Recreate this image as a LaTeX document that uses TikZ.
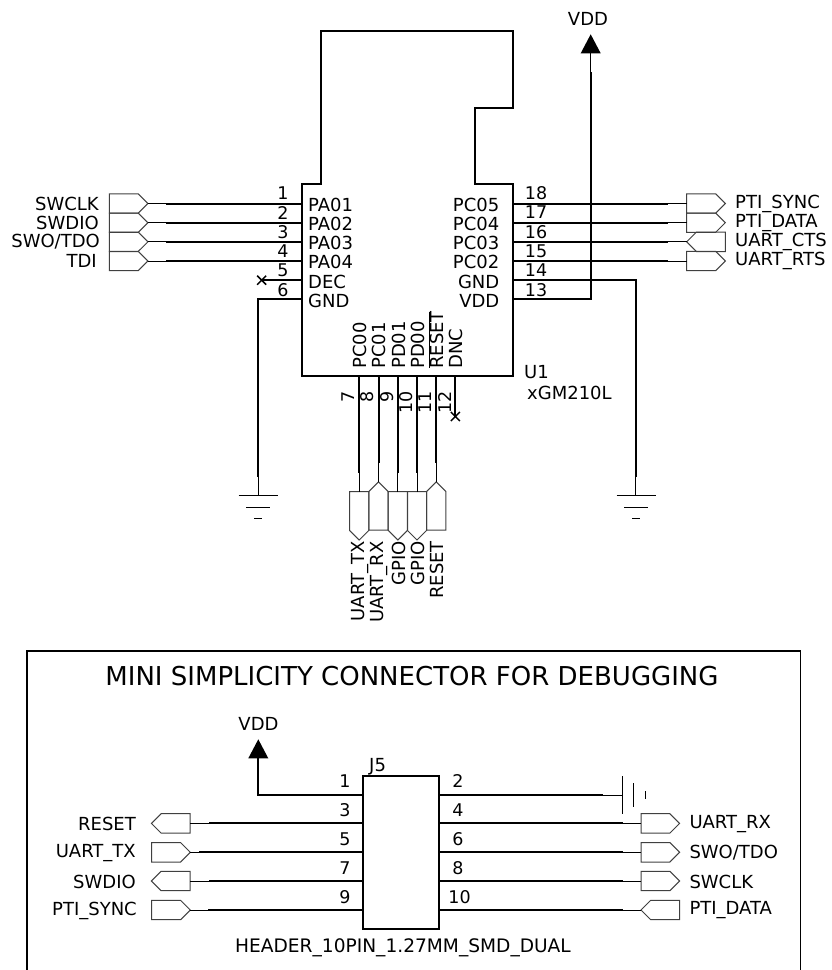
\documentclass[tikz,border=0pt]{standalone}
\usepackage{fontspec}
\setmainfont{DejaVu Sans}
\usetikzlibrary{shapes.symbols,shapes.misc}
\tikzset{
	wire/.style={line width=2pt},
	stub/.style={line width=1pt},
	outline/.style={line width=2pt},
	flag/.style={draw=black!75, line width=1pt, signal, signal from=nowhere, signal pointer angle=90, inner sep=0pt, outer sep=0pt},
	flagE/.style={flag, minimum width=38.6pt, minimum height=19.4pt, signal to=east, anchor=west},
	flagW/.style={flag, minimum width=38.6pt, minimum height=19.4pt, signal to=west, anchor=east},
	flagS/.style={flag, minimum width=19.4pt, minimum height=38.6pt, signal to=south, anchor=north},
	flagN/.style={flag, minimum width=19.4pt, minimum height=38.6pt, signal to=north, anchor=south},
	nc/.style={draw, cross out, line width=1.5pt, minimum size=9pt, inner sep=0pt, outer sep=0pt},
	txt/.style={font=\fontsize{18pt}{18pt}\selectfont, inner sep=0pt},
	num/.style={font=\fontsize{17.5pt}{17.5pt}\selectfont, inner sep=0pt},
}
\begin{document}
\begin{tikzpicture}[x=1pt,y=-1pt]
	\useasboundingbox (0,0) rectangle (831,970);

	% Draw U1 body
	\draw[outline] (301.7,376) -- (301.7,184) -- (320.7,184) -- (320.7,30.7) -- (513.3,30.7) -- (513.3,107.7) -- (475,107.7) -- (475,184) -- (513.3,184) -- (513.3,376) -- cycle;
	\coordinate (pa01) at (301.7,203.5);
	\coordinate (pa02) at (301.7,222.7);
	\coordinate (pa03) at (301.7,241.8);
	\coordinate (pa04) at (301.7,261);
	\coordinate (dec) at (301.7,280.2);
	\coordinate (gnda) at (301.7,299.4);
	\coordinate (pc05) at (513.3,203.5);
	\coordinate (pc04) at (513.3,222.7);
	\coordinate (pc03) at (513.3,241.8);
	\coordinate (pc02) at (513.3,261);
	\coordinate (gndb) at (513.3,280.2);
	\coordinate (vddu) at (513.3,299.4);
	\coordinate (pc00) at (359.2,376);
	\coordinate (pc01) at (378.5,376);
	\coordinate (pd01) at (397.8,376);
	\coordinate (pd00) at (417,376);
	\coordinate (reset) at (436.2,376);
	\coordinate (dnc) at (455.4,376);

	% Pin names
	\node[txt, anchor=west] (npa01) at (308,205) {PA01};
	\node[txt, anchor=west] (npa02) at (308,224) {PA02};
	\node[txt, anchor=west] (npa03) at (308,243) {PA03};
	\node[txt, anchor=west] (npa04) at (308,262) {PA04};
	\node[txt, anchor=west] (ndec) at (308,281.5) {DEC};
	\node[txt, anchor=west] (ngnda) at (308,300.5) {GND};
	\node[txt, anchor=east] (npc05) at (499.5,205) {PC05};
	\node[txt, anchor=east] (npc04) at (499.5,224) {PC04};
	\node[txt, anchor=east] (npc03) at (499.5,243) {PC03};
	\node[txt, anchor=east] (npc02) at (499.5,262) {PC02};
	\node[txt, anchor=east] (ngndb) at (499.5,281.5) {GND};
	\node[txt, anchor=east] (nvddu) at (499.5,300.5) {VDD};
	\node[txt, rotate=90, anchor=west] (npc00) at (360,369) {PC00};
	\node[txt, rotate=90, anchor=west] (npc01) at (379,369) {PC01};
	\node[txt, rotate=90, anchor=west] (npd01) at (398.5,369) {PD01};
	\node[txt, rotate=90, anchor=west] (npd00) at (418,369) {PD00};
	\node[txt, rotate=90, anchor=west] (nreset) at (437,369) {RESET};
	\node[txt, rotate=90, anchor=west] (ndnc) at (456,369) {DNC};
	\draw[stub] (429,368) -- (429,312);
	\node[txt, anchor=west] (u1) at (524,372) {U1};
	\node[txt, anchor=west] (xgm) at (527,393) {xGM210L};

	% Pin numbers
	\node[num] (n1) at (283,193.5) {1};
	\node[num] (n2) at (283,212.5) {2};
	\node[num] (n3) at (283,232) {3};
	\node[num] (n4) at (283,251.5) {4};
	\node[num] (n5) at (283,270.5) {5};
	\node[num] (n6) at (283,290) {6};
	\node[num] (n18) at (536,193.5) {18};
	\node[num] (n17) at (536,212.5) {17};
	\node[num] (n16) at (536,232) {16};
	\node[num] (n15) at (536,251.5) {15};
	\node[num] (n14) at (536,270.5) {14};
	\node[num] (n13) at (536,290) {13};
	\node[num, rotate=90, anchor=east] (n7) at (348.5,391) {7};
	\node[num, rotate=90, anchor=east] (n8) at (367.5,391) {8};
	\node[num, rotate=90, anchor=east] (n9) at (387,391) {9};
	\node[num, rotate=90, anchor=east] (n10) at (406.5,391) {10};
	\node[num, rotate=90, anchor=east] (n11) at (425.5,391) {11};
	\node[num, rotate=90, anchor=east] (n12) at (445,391) {12};

	% Left flags
	\node[flagE] (swclk) at (109.3,203.5) {};
	\node[flagE] (swdio) at (109.3,222.7) {};
	\node[flagE] (swo) at (109.3,241.8) {};
	\node[flagE] (tdi) at (109.3,261) {};
	\node[txt, anchor=east] (lswclk) at (99,204) {SWCLK};
	\node[txt, anchor=east] (lswdio) at (99,223) {SWDIO};
	\node[txt, anchor=east] (lswo) at (100,242) {SWO/TDO};
	\node[txt, anchor=east] (ltdi) at (97,261) {TDI};
	\draw[stub] (swclk.east) -- +(18.5,0) coordinate (wa);
	\draw[wire] (wa) -- (pa01);
	\draw[stub] (swdio.east) -- +(18.5,0) coordinate (wb);
	\draw[wire] (wb) -- (pa02);
	\draw[stub] (swo.east) -- +(18.5,0) coordinate (wc);
	\draw[wire] (wc) -- (pa03);
	\draw[stub] (tdi.east) -- +(18.5,0) coordinate (wd);
	\draw[wire] (wd) -- (pa04);

	% DEC no connect
	\node[nc] (xdec) at (261.7,280.2) {};
	\draw[wire] (xdec.center) -- (dec);

	% Right flags
	\node[flagE] (sync) at (686.7,203.5) {};
	\node[flagE] (data) at (686.7,222.7) {};
	\node[flagW] (cts) at (725.3,241.8) {};
	\node[flagE] (rts) at (686.7,261) {};
	\node[txt, anchor=west] (lsync) at (735,204) {PTI\_SYNC};
	\node[txt, anchor=west] (ldata) at (735,223) {PTI\_DATA};
	\node[txt, anchor=west] (lcts) at (735,242) {UART\_CTS};
	\node[txt, anchor=west] (lrts) at (735,261) {UART\_RTS};
	\draw[stub] (sync.west) -- +(-19,0) coordinate (we);
	\draw[wire] (we) -- (pc05);
	\draw[stub] (data.west) -- +(-19,0) coordinate (wf);
	\draw[wire] (wf) -- (pc04);
	\draw[stub] (cts.west) -- +(-19,0) coordinate (wg);
	\draw[wire] (wg) -- (pc03);
	\draw[stub] (rts.west) -- +(-19,0) coordinate (wh);
	\draw[wire] (wh) -- (pc02);

	% Bottom flags
	\node[flagS] (uarttx) at (359.2,491.7) {};
	\node[flagN] (uartrx) at (378.5,530.2) {};
	\node[flagS] (gpioa) at (397.8,491.7) {};
	\node[flagS] (gpiob) at (417,491.7) {};
	\node[flagN] (resetf) at (436.2,530.2) {};
	\node[txt, rotate=90, anchor=east] (ltx) at (360,541) {UART\_TX};
	\node[txt, rotate=90, anchor=east] (lrx) at (379,541) {UART\_RX};
	\node[txt, rotate=90, anchor=east] (lga) at (398.5,541) {GPIO};
	\node[txt, rotate=90, anchor=east] (lgb) at (418,541) {GPIO};
	\node[txt, rotate=90, anchor=east] (lre) at (437,541) {RESET};
	\draw[stub] (uarttx.north) -- +(0,-19) coordinate (wi);
	\draw[wire] (wi) -- (pc00);
	\draw[stub] (uartrx.north) -- +(0,-19) coordinate (wj);
	\draw[wire] (wj) -- (pc01);
	\draw[stub] (gpioa.north) -- +(0,-19) coordinate (wk);
	\draw[wire] (wk) -- (pd01);
	\draw[stub] (gpiob.north) -- +(0,-19) coordinate (wl);
	\draw[wire] (wl) -- (pd00);
	\draw[stub] (resetf.north) -- +(0,-19) coordinate (wm);
	\draw[wire] (wm) -- (reset);

	% DNC no connect
	\node[nc] (xdnc) at (455.4,416.5) {};
	\draw[wire] (dnc) -- (xdnc.center);

	% Grounds
	\coordinate (gl) at (258.4,477);
	\coordinate (gr) at (635.7,477);
	\draw[wire] (gnda) -| (gl);
	\draw[wire] (gndb) -| (gr);
	\draw[stub] (gl) -- (258.4,495);
	\draw[stub] (gr) -- (635.7,495);
	\draw[stub] (238.5,495.5) -- (277.7,495.5) (246,507) -- (270,507) (254,518.7) -- (262.3,518.7);
	\draw[stub] (616.5,495.5) -- (655.5,495.5) (624,507) -- (648,507) (632,518.7) -- (640,518.7);

	% VDD
	\coordinate (vtip) at (590.7,34.3);
	\coordinate (vbase) at (590.7,53.3);
	\coordinate (vwire) at (590.7,72);
	\fill (vtip) -- (580.7,53.3) -- (600.7,53.3) -- cycle;
	\draw[stub] (vbase) -- (vwire);
	\draw[wire] (vwire) -- (590.7,299.4) -- (vddu);
	\node[txt] (vddtop) at (588,19) {VDD};

	% Debug frame
	\draw[line width=1.5pt] (27,970) -- (27,651) -- (800.7,651) -- (800.7,970);
	\node[font=\fontsize{26pt}{26pt}\selectfont, inner sep=0pt] (title) at (412,676) {MINI SIMPLICITY CONNECTOR FOR DEBUGGING};

	% J5
	\node[draw, line width=2pt, minimum width=76.6pt, minimum height=153.3pt, inner sep=0pt, outer sep=0pt, anchor=north west] (j5) at (362.7,776) {};
	\node[txt, anchor=west] (lj5) at (369,767) {J5};
	\node[font=\fontsize{18.6pt}{18.6pt}\selectfont, inner sep=0pt] (lhdr) at (403,948) {HEADER\_10PIN\_1.27MM\_SMD\_DUAL};
	\coordinate (p1) at (362.7,795);
	\coordinate (p3) at (362.7,823.4);
	\coordinate (p5) at (362.7,852.3);
	\coordinate (p7) at (362.7,881);
	\coordinate (p9) at (362.7,910);
	\coordinate (p2) at (439.3,795);
	\coordinate (p4) at (439.3,823.4);
	\coordinate (p6) at (439.3,852.3);
	\coordinate (p8) at (439.3,881);
	\coordinate (p10) at (439.3,910);
	\node[num] (m1) at (345,781) {1};
	\node[num] (m3) at (345,810) {3};
	\node[num] (m5) at (345,839) {5};
	\node[num] (m7) at (345,868) {7};
	\node[num] (m9) at (345,897) {9};
	\node[num] (m2) at (458,781) {2};
	\node[num] (m4) at (458,810) {4};
	\node[num] (m6) at (458,839) {6};
	\node[num] (m8) at (458,868) {8};
	\node[num] (m10) at (459.5,897) {10};

	% J5 left side
	\coordinate (vtipb) at (258.3,739.3);
	\coordinate (vbaseb) at (258.3,758.3);
	\fill (vtipb) -- (248.3,758.3) -- (268.3,758.3) -- cycle;
	\draw[wire] (vbaseb) |- (p1);
	\node[txt] (vddb) at (258.5,724) {VDD};
	\node[flagW] (freset) at (190,823.4) {};
	\node[flagE] (ftx) at (151.7,852.3) {};
	\node[flagW] (fdio) at (190,881) {};
	\node[flagE] (fsync) at (151.7,910) {};
	\node[txt, anchor=east] (lfreset) at (136,823.5) {RESET};
	\node[txt, anchor=east] (lftx) at (136,853) {UART\_TX};
	\node[txt, anchor=east] (lfdio) at (136,881.5) {SWDIO};
	\node[txt, anchor=east] (lfsync) at (137,910.5) {PTI\_SYNC};
	\draw[stub] (freset.east) -- +(19,0) coordinate (wn);
	\draw[wire] (wn) -- (p3);
	\draw[stub] (ftx.east) -- +(9,0) coordinate (wo);
	\draw[wire] (wo) -- (p5);
	\draw[stub] (fdio.east) -- +(19,0) coordinate (wp);
	\draw[wire] (wp) -- (p7);
	\draw[stub] (fsync.east) -- +(18,0) coordinate (wq);
	\draw[wire] (wq) -- (p9);

	% J5 right side
	\coordinate (gj) at (622,795);
	\draw[stub] (603,795) -- (gj);
	\draw[wire] (p2) -- (603,795);
	\draw[stub] (gj |- 0,776) -- (gj |- 0,813.5) (633.5,783) -- (633.5,807) (645,791) -- (645,799);
	\node[flagE] (frx) at (641,823.4) {};
	\node[flagE] (fswo) at (641,852.3) {};
	\node[flagE] (fclk) at (641,881) {};
	\node[flagW] (fdata) at (679.6,910) {};
	\node[txt, anchor=west] (lfrx) at (689.3,824) {UART\_RX};
	\node[txt, anchor=west] (lfswo) at (689.3,852.5) {SWO/TDO};
	\node[txt, anchor=west] (lfclk) at (689.3,881.5) {SWCLK};
	\node[txt, anchor=west] (lfdata) at (689.3,910.5) {PTI\_DATA};
	\draw[stub] (frx.west) -- +(-18.5,0) coordinate (wr);
	\draw[wire] (wr) -- (p4);
	\draw[stub] (fswo.west) -- +(-18.5,0) coordinate (ws);
	\draw[wire] (ws) -- (p6);
	\draw[stub] (fclk.west) -- +(-18.5,0) coordinate (wt);
	\draw[wire] (wt) -- (p8);
	\draw[stub] (fdata.west) -- +(-18.5,0) coordinate (wu);
	\draw[wire] (wu) -- (p10);
\end{tikzpicture}
\end{document}
